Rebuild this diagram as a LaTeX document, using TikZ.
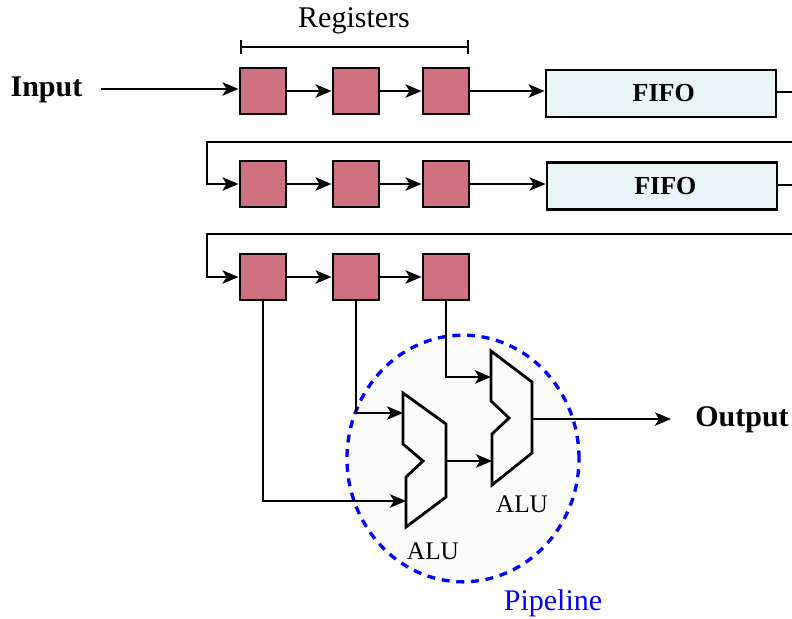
\documentclass[tikz,border=0pt]{standalone}
\usepackage{fontspec}
\setmainfont{Liberation Serif}
\usetikzlibrary{arrows.meta,shapes.geometric}

\begin{document}
\begin{tikzpicture}[x=0.75pt,y=-0.75pt,>={Stealth[length=12pt,width=10pt,inset=3pt]},
  line width=1.8pt,node distance=69.75pt,
  reg node/.style={rectangle,draw,fill=regpink,line width=2.2pt,minimum size=34.5pt,inner sep=0pt},
  fifo node/.style={rectangle,draw,fill=fifoblue,line width=2.2pt,minimum width=172.5pt,
    minimum height=35.25pt,font=\fontsize{19.5}{22}\selectfont\bfseries},
  alu shape/.style={draw,line width=2.1pt,line join=miter},
  io label/.style={font=\fontsize{22.5}{26}\selectfont\bfseries,inner sep=0pt},
  name label/.style={font=\fontsize{22.5}{26}\selectfont,inner sep=0pt},
  alu label/.style={font=\fontsize{19}{22}\selectfont,inner sep=0pt}]

  \definecolor{regpink}{HTML}{CF7080}
  \definecolor{fifoblue}{HTML}{E9F5F7}
  \definecolor{pipefill}{HTML}{FBFBFB}
  \useasboundingbox (0,0) rectangle (792,618);

  % pipeline region goes first, the wires run over it
  \node[ellipse,draw=blue,fill=pipefill,line width=2.5pt,dash pattern=on 6pt off 5pt,
    minimum width=174pt,minimum height=185pt,inner sep=0pt] (Pipe) at (463,458.5) {};

  \node[reg node] (R11) at (263,91)  {};
  \node[reg node] (R12) [right of=R11] {};
  \node[reg node] (R13) [right of=R12,node distance=67.5pt] {};
  \node[reg node] (R21) [below of=R11] {};
  \node[reg node] (R22) [right of=R21] {};
  \node[reg node] (R23) [right of=R22,node distance=67.5pt] {};
  \node[reg node] (R31) [below of=R21] {};
  \node[reg node] (R32) [right of=R31] {};
  \node[reg node] (R33) [right of=R32,node distance=67.5pt] {};

  \node[fifo node] (F1) at (661,93.5) {\hspace{4pt}FIFO};
  \node[fifo node] (F2) at (662,186)  {\hspace{5pt}FIFO};

  \node[io label] (Input)  at (46.5,90) {Input};
  \node[io label] (Output) at (742,420) {Output};
  \node[name label] (Regs) at (354,21) {Registers};
  \node[name label,text=blue] (PipeName) at (553,603) {Pipeline};
  \node[alu label] (Alu1) at (433,551) {ALU};
  \node[alu label] (Alu2) at (522,504) {ALU};

  % the two ALUs
  \draw[alu shape] (403,393) -- (446,424) -- (446,497) -- (406,527) -- (406,477)
    -- (423,461) -- (403,444) -- cycle;
  \draw[alu shape] (491,351) -- (532,382) -- (532,453) -- (492,485) -- (492,434)
    -- (509,418) -- (491,401) -- cycle;

  \coordinate (InS)   at (101,89);
  \coordinate (B1)    at (240,47);
  \coordinate (B2)    at (469,47);
  \coordinate (E1)    at (792,92);
  \coordinate (E2)    at (792,185);
  \coordinate (W1)    at (792,142);
  \coordinate (T1)    at (207,142);
  \coordinate (W2)    at (792,234);
  \coordinate (T2)    at (207,234);
  \coordinate (A1a)   at (403,413);
  \coordinate (A1b)   at (406,501);
  \coordinate (A1o)   at (446,461);
  \coordinate (A2a)   at (491,377);
  \coordinate (A2b)   at (492,461);
  \coordinate (A2o)   at (532,419);
  \coordinate (OutE)  at (671,419);

  % bracket over the registers
  \draw[{Bar[width=10pt]}-{Bar[width=10pt]},line width=1.5pt] (B1) -- (B2);

  % row 1
  \draw[->] (InS) -- (InS -| R11.west);
  \draw[->] (R11) -- (R12);
  \draw[->] (R12) -- (R13);
  \draw[->] (R13.east) -- (R13.east -| F1.west);
  \draw (F1.east |- E1) -- (E1);
  % row 2
  \draw[->] (W1) -- (T1) |- (R21.west);
  \draw[->] (R21) -- (R22);
  \draw[->] (R22) -- (R23);
  \draw[->] (R23.east) -- (R23.east -| F2.west);
  \draw (F2.east |- E2) -- (E2);
  % row 3
  \draw[->] (W2) -- (T2) |- (R31.west);
  \draw[->] (R31) -- (R32);
  \draw[->] (R32) -- (R33);

  % into the pipeline
  \draw[->] (R31.south) |- (A1b);
  \draw[->] (R32.south) |- (A1a);
  \draw[->] (R33.south) |- (A2a);
  \draw[->] (A1o) -- (A2b);
  \draw[->] (A2o) -- (OutE);

\end{tikzpicture}
\end{document}
